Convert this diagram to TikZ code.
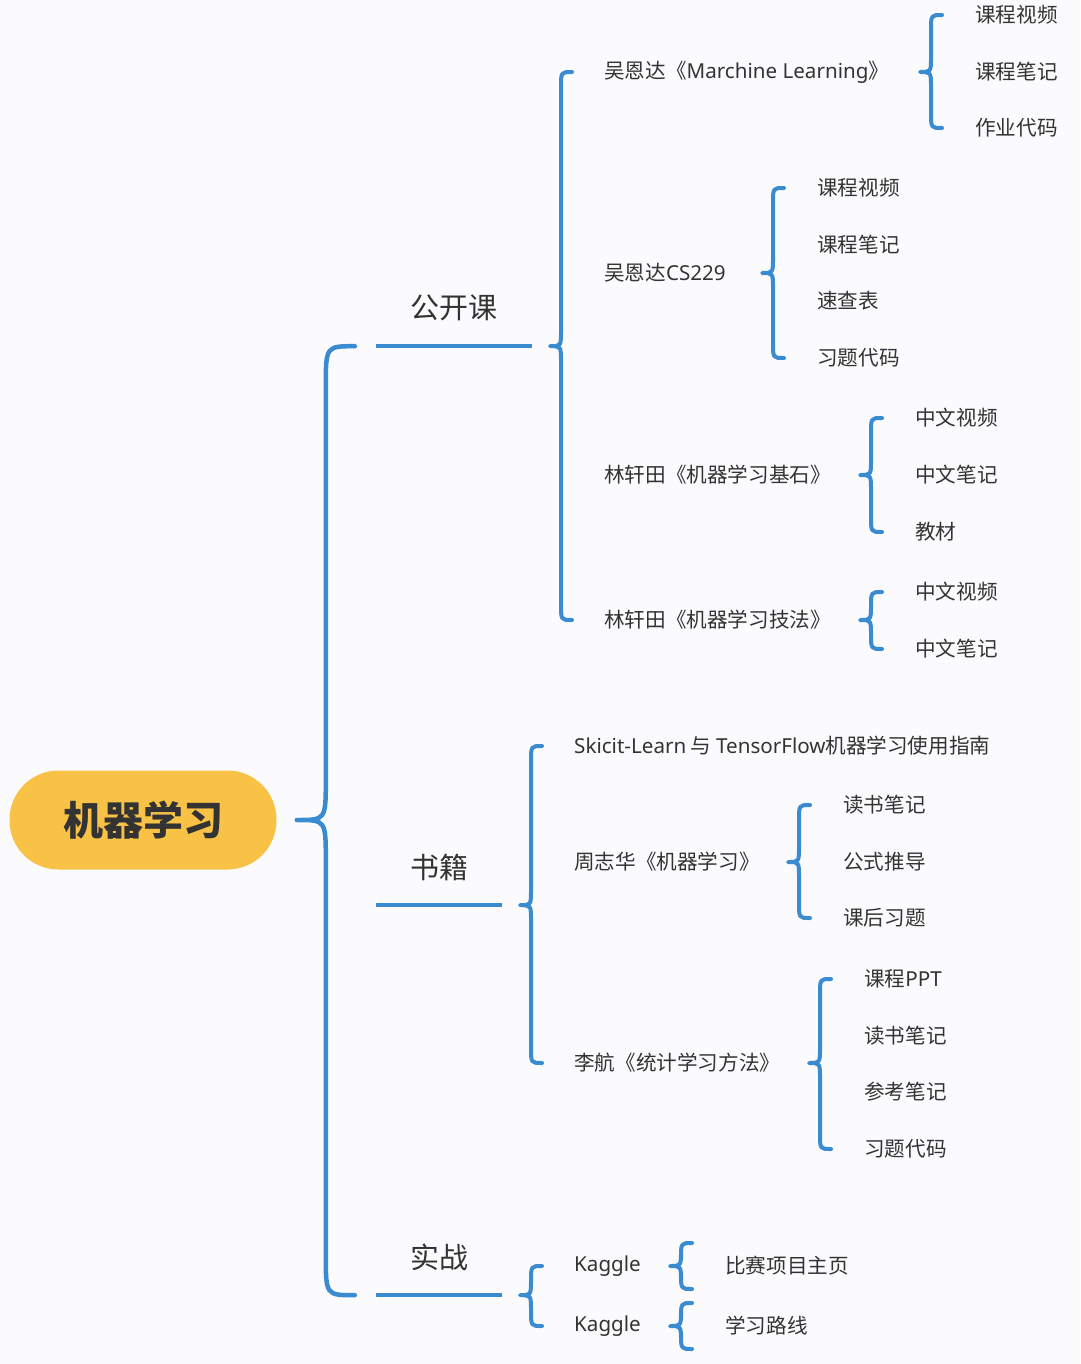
\documentclass[tikz,border=0pt]{standalone}
\usepackage{fontspec}
\setmainfont{Noto Sans CJK SC}
\newfontfamily\lat{Noto Sans}
\usepackage{xcolor}
\usepackage{tikz}
\usetikzlibrary{calc}

\definecolor{mmblue}{HTML}{3A8BD0}
\definecolor{mmyellow}{HTML}{F8C246}
\definecolor{mmtext}{HTML}{333333}
\definecolor{mmbg}{HTML}{FBFBFE}

\tikzset{
  root/.style={fill=mmyellow,rounded corners=49pt,minimum width=267pt,minimum height=99pt,
    text=mmtext,font=\fontsize{40}{48}\selectfont\bfseries},
  branch/.style={minimum height=76pt,inner sep=0pt,text=mmtext,font=\fontsize{29}{34}\selectfont},
  leaf/.style={anchor=west,inner sep=0pt,text=mmtext,font=\fontsize{20.6}{24}\selectfont},
  bar/.style={draw=mmblue,line width=4.5pt},
  brace/.style={draw=mmblue,line width=4pt,line cap=round,line join=round},
  bigbrace/.style={brace,line width=4.5pt}
}

% #1 style, #2 half width, #3 gap to children, #4 parent, #5 first child, #6 last child
\newcommand{\curly}[6]{%
  \draw[#1] let \p0=(#4), \p1=(#5), \p2=(#6) in
    (\x1-#3pt+2*#2pt,\y1) .. controls (\x1-#3pt+#2pt,\y1) .. (\x1-#3pt+#2pt,\y1-1.4*#2pt)
    -- (\x1-#3pt+#2pt,\y0+1.4*#2pt) .. controls (\x1-#3pt+#2pt,\y0) .. (\x1-#3pt,\y0)
    .. controls (\x1-#3pt+#2pt,\y0) .. (\x1-#3pt+#2pt,\y0-1.4*#2pt)
    -- (\x1-#3pt+#2pt,\y2+1.4*#2pt) .. controls (\x1-#3pt+#2pt,\y2) .. (\x1-#3pt+2*#2pt,\y2);}

\begin{document}
\begin{tikzpicture}[x=1pt,y=-1pt]
\fill[mmbg] (0,0) rectangle (1080,1364);
\useasboundingbox (0,0) rectangle (1080,1364);

\node[root] (root) at (143,820) {机器学习};

% branches
\node[branch,minimum width=156pt] (gk) at (454,308) {公开课};
\node[branch,minimum width=126pt] (sj) at (439,867) {书籍};
\node[branch,minimum width=126pt] (sz) at (439,1257) {实战};
\draw[bar] (gk.south west) -- (gk.south east);
\draw[bar] (sj.south west) -- (sj.south east);
\draw[bar] (sz.south west) -- (sz.south east);

% 公开课
\node[leaf] (ml) at (604,72) {吴恩达《{\lat Marchine Learning}》};
\node[leaf] (cs) at (604,273) {吴恩达{\lat CS229}};
\node[leaf] (jsh) at (604,475) {林轩田《机器学习基石》};
\node[leaf] (jf) at (604,620) {林轩田《机器学习技法》};

\node[leaf] (ml1) at (975,15) {课程视频};
\node[leaf] (ml2) at (975,72) {课程笔记};
\node[leaf] (ml3) at (975,128) {作业代码};

\node[leaf] (cs1) at (817,188) {课程视频};
\node[leaf] (cs2) at (817,245) {课程笔记};
\node[leaf] (cs3) at (817,301) {速查表};
\node[leaf] (cs4) at (817,358) {习题代码};

\node[leaf] (jsh1) at (915,418) {中文视频};
\node[leaf] (jsh2) at (915,475) {中文笔记};
\node[leaf] (jsh3) at (915,532) {教材};

\node[leaf] (jf1) at (915,592) {中文视频};
\node[leaf] (jf2) at (915,649) {中文笔记};

% 书籍
\node[leaf] (sk) at (574,746) {{\lat Skicit-Learn} 与 {\lat TensorFlow}机器学习使用指南};
\node[leaf] (zz) at (574,862) {周志华《机器学习》};
\node[leaf] (lh) at (574,1063) {李航《统计学习方法》};

\node[leaf] (zz1) at (843,805) {读书笔记};
\node[leaf] (zz2) at (843,862) {公式推导};
\node[leaf] (zz3) at (843,918) {课后习题};

\node[leaf] (lh1) at (864,979) {课程{\lat PPT}};
\node[leaf] (lh2) at (864,1036) {读书笔记};
\node[leaf] (lh3) at (864,1092) {参考笔记};
\node[leaf] (lh4) at (864,1149) {习题代码};

% 实战
\node[leaf] (kg1) at (574,1266) {\lat Kaggle};
\node[leaf] (kg2) at (574,1326) {\lat Kaggle};
\node[leaf] (kg1a) at (725,1266) {比赛项目主页};
\node[leaf] (kg2a) at (725,1326) {学习路线};
\coordinate (kg1u) at ($(kg1a.west)+(0,-23)$);
\coordinate (kg1d) at ($(kg1a.west)+(0,23)$);
\coordinate (kg2u) at ($(kg2a.west)+(0,-23)$);
\coordinate (kg2d) at ($(kg2a.west)+(0,23)$);

% braces
\curly{bigbrace}{29}{79}{root}{gk.south west}{sz.south west}
\curly{brace}{11}{54}{gk.south}{ml.west}{jf.west}
\curly{brace}{11}{54}{sj.south}{sk.west}{lh.west}
\curly{brace}{11}{54}{sz.south}{kg1.west}{kg2.west}
\curly{brace}{11}{55}{ml}{ml1.west}{ml3.west}
\curly{brace}{11}{55}{cs}{cs1.west}{cs4.west}
\curly{brace}{11}{55}{jsh}{jsh1.west}{jsh3.west}
\curly{brace}{11}{55}{jf}{jf1.west}{jf2.west}
\curly{brace}{11}{55}{zz}{zz1.west}{zz3.west}
\curly{brace}{11}{55}{lh}{lh1.west}{lh4.west}
\curly{brace}{11}{55}{kg1}{kg1u}{kg1d}
\curly{brace}{11}{55}{kg2}{kg2u}{kg2d}
\end{tikzpicture}
\end{document}
